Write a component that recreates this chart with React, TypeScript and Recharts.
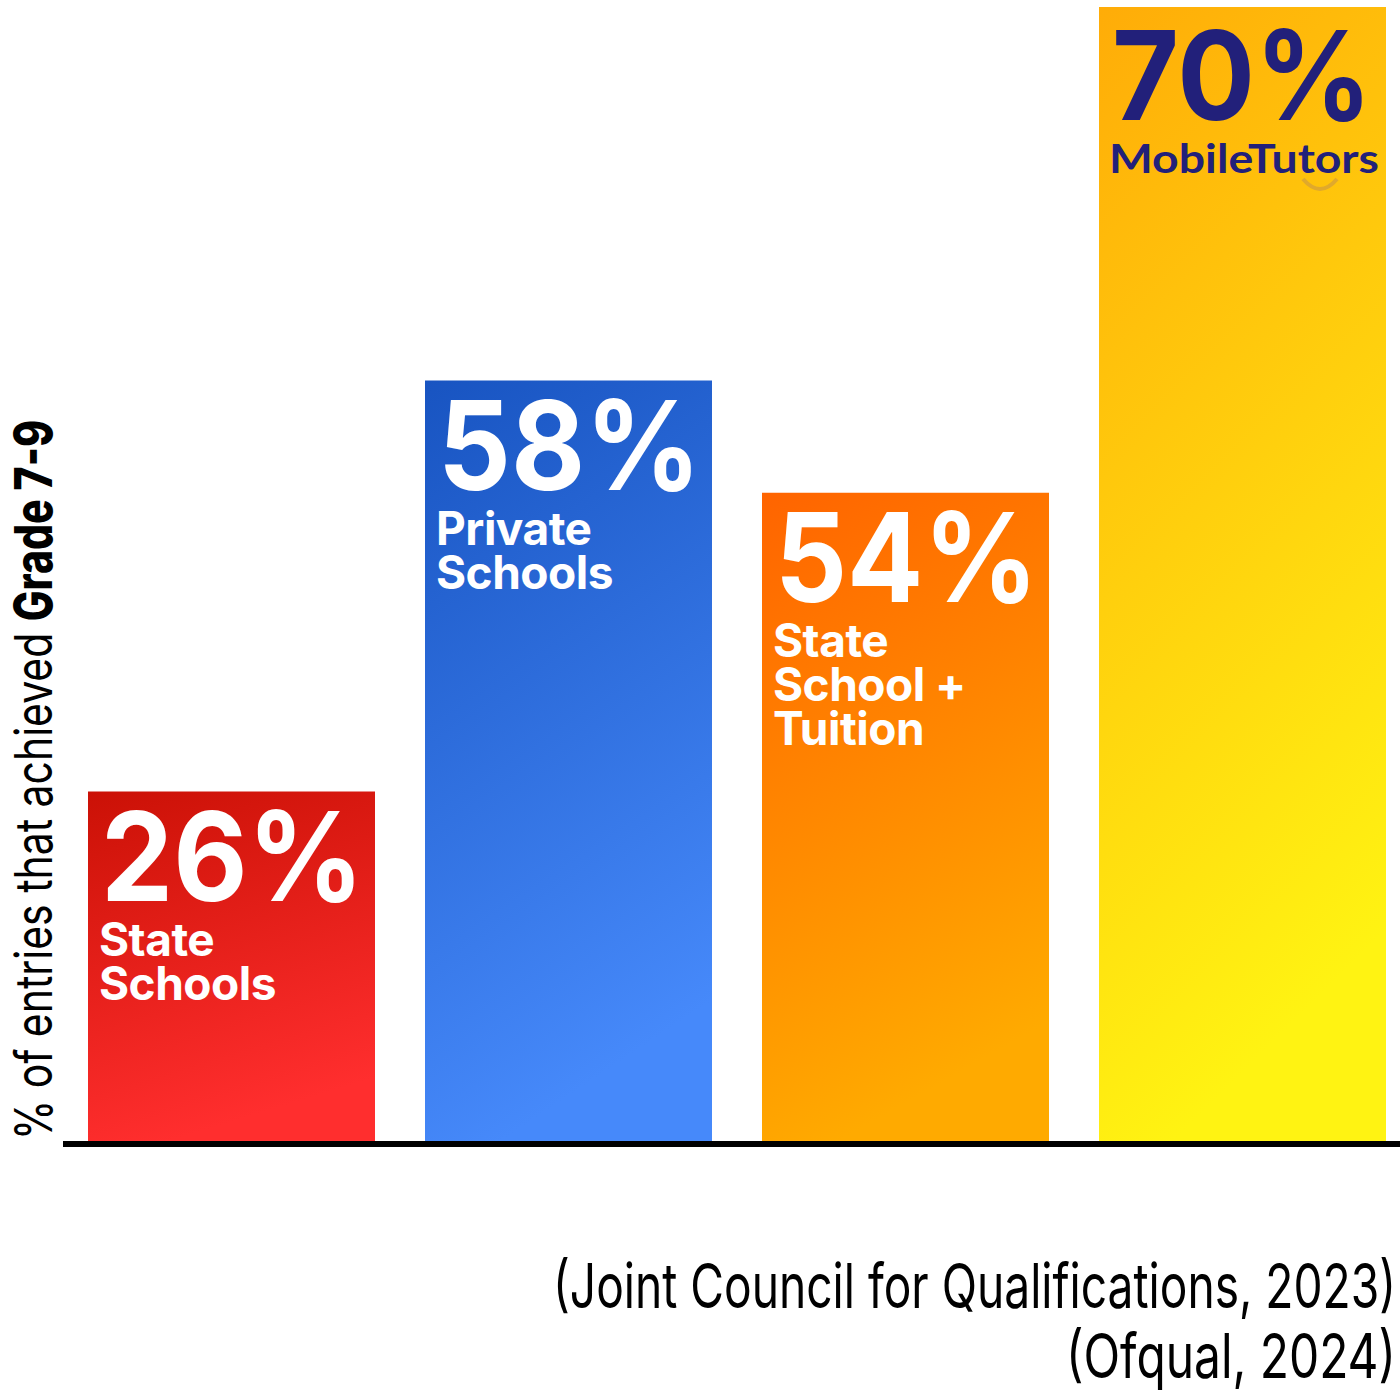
import React from "react";
import {
  BarChart,
  Bar,
  XAxis,
  YAxis,
  Cell,
  LabelList,
  ReferenceLine,
  Customized,
} from "recharts";

const categories = ["State Schools", "Private Schools", "State School + Tuition", "MobileTutors"];
const shownPct = [26, 58, 54, 70];
// drawn bar heights on a 0-70 scale (the source bars are not to scale)
const barHeights = [21.7, 47.0, 40.1, 70];
const labelLines = [["State", "Schools"], ["Private", "Schools"], ["State", "School +", "Tuition"], []];
const topColors = ["#cb1106", "#1854c1", "#ff6400", "#ffac08"];
const bottomColors = ["#ff2e2e", "#4689fa", "#ffaa00", "#fff312"];

const data = categories.map((name, i) => ({ name, h: barHeights[i], pct: shownPct[i] }));

const BarLabel = (props: any) => {
  const { x, y, index, value } = props;
  const last = index === 3;
  const lines = labelLines[index] || [];
  return (
    <g>
      <text
        x={x + 13}
        y={y + (last ? 113 : 109)}
        fill={last ? "#22207a" : "#fff"}
        fontSize={124}
        fontWeight={700}
        fontFamily="Inter"
        textLength={last ? 260 : 263}
        lengthAdjust="spacingAndGlyphs"
      >
        {value}%
      </text>
      {lines.map((l, j) => (
        <text
          key={j}
          x={x + 11}
          y={y + 164 + j * 44}
          fill="#fff"
          fontSize={46}
          fontWeight={700}
          fontFamily="Inter"
          letterSpacing={-0.5}
        >
          {l}
        </text>
      ))}
      {last && (
        <g>
          <text
            x={x + 10}
            y={y + 166}
            fill="#22207a"
            fontSize={40}
            fontWeight={700}
            fontFamily="Lato"
            textLength={270}
            lengthAdjust="spacingAndGlyphs"
          >
            MobileTutors
          </text>
          <path
            d={`M${x + 204},${y + 172} Q${x + 221},${y + 192} ${x + 238},${y + 172}`}
            stroke="#e0a92c"
            strokeWidth={4}
            fill="none"
          />
        </g>
      )}
    </g>
  );
};

const Extras = () => (
  <g>
    <text
      transform="translate(52, 1140) rotate(-90)"
      fontFamily="Inter"
      fontSize={52}
      fill="#000"
      textLength={720}
      lengthAdjust="spacingAndGlyphs"
    >
      <tspan>% of entries that achieved </tspan>
      <tspan fontWeight={800}>Grade 7-9</tspan>
    </text>
    <text
      x={1396}
      y={1308}
      textAnchor="end"
      fontFamily="Inter"
      fontSize={62}
      fill="#000"
      textLength={843}
      lengthAdjust="spacingAndGlyphs"
    >
      (Joint Council for Qualifications, 2023)
    </text>
    <text
      x={1396}
      y={1378}
      textAnchor="end"
      fontFamily="Inter"
      fontSize={62}
      fill="#000"
      textLength={330}
      lengthAdjust="spacingAndGlyphs"
    >
      (Ofqual, 2024)
    </text>
  </g>
);

export default function App() {
  return (
    <div
      style={{
        position: "absolute",
        left: 0,
        top: 0,
        width: 1400,
        height: 1400,
        overflow: "hidden",
        background: "#fff",
      }}
    >
      <BarChart
        width={1412}
        height={1400}
        data={data}
        margin={{ top: 7, right: 1, left: 63, bottom: 256 }}
      >
        <defs>
          {topColors.map((c, i) => (
            <linearGradient key={i} id={`grad-${i}`} x1="0" y1="0" x2="0.25" y2="1">
              <stop offset="0%" stopColor={c} />
              <stop offset="100%" stopColor={bottomColors[i]} />
            </linearGradient>
          ))}
        </defs>
        <XAxis dataKey="name" hide />
        <YAxis hide domain={[0, 70]} />
        <Bar dataKey="h" barSize={287} isAnimationActive={false}>
          {data.map((d, i) => (
            <Cell key={d.name} fill={`url(#grad-${i})`} />
          ))}
          <LabelList dataKey="pct" content={BarLabel} />
        </Bar>
        <ReferenceLine y={0} stroke="#000" strokeWidth={6} />
        <Customized component={Extras} />
      </BarChart>
    </div>
  );
}
